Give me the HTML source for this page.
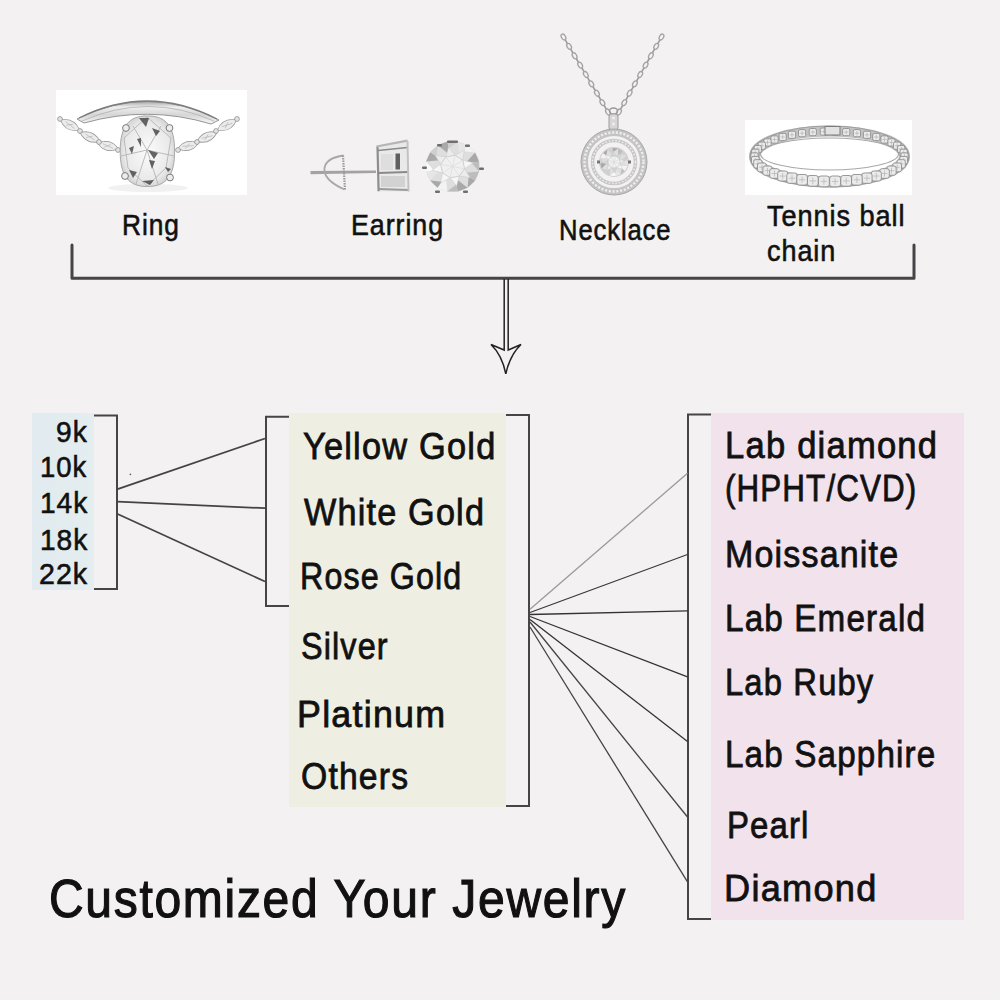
<!DOCTYPE html>
<html><head><meta charset="utf-8"><style>
html,body{margin:0;padding:0;}
body{width:1000px;height:1000px;position:relative;overflow:hidden;background:#f3f1f2;font-family:"Liberation Sans",sans-serif;}
.t{position:absolute;white-space:nowrap;line-height:1;color:#111;transform-origin:0 0;-webkit-text-stroke:0.35px #111;letter-spacing:0.035em;}
.box{position:absolute;}
svg{position:absolute;left:0;top:0;}
</style></head><body>
<div class="box" style="left:56px;top:90px;width:191px;height:105px;background:#fff"></div>
<div class="box" style="left:745px;top:120px;width:167px;height:75px;background:#fff"></div>
<div class="box" style="left:32px;top:413px;width:62px;height:177px;background:linear-gradient(90deg,#e1ebf0,#e4eeef)"></div>
<div class="box" style="left:289px;top:413px;width:217px;height:394px;background:#efeee2"></div>
<div class="box" style="left:711px;top:413px;width:253px;height:507px;background:#f1e2eb"></div>
<svg width="1000" height="1000" viewBox="0 0 1000 1000">
<path d="M72 245 V278.2 H914 V245" fill="none" stroke="#464446" stroke-width="3" stroke-linecap="round" stroke-linejoin="round"/>
<path d="M94 415.5 H117 V589 H94" fill="none" stroke="#464446" stroke-width="2"/>
<path d="M289 416.8 H266 V606 H289" fill="none" stroke="#464446" stroke-width="2"/>
<path d="M506 415 H529 V806 H506" fill="none" stroke="#464446" stroke-width="2"/>
<path d="M711 414.5 H688 V919 H711" fill="none" stroke="#464446" stroke-width="2"/>
<line x1="117.6" y1="489.1" x2="265" y2="438.5" stroke="#444" stroke-width="1.8"/>
<line x1="117.6" y1="501.6" x2="265" y2="508.2" stroke="#444" stroke-width="1.8"/>
<line x1="117.6" y1="514" x2="265" y2="581.5" stroke="#444" stroke-width="1.8"/>
<line x1="530" y1="609.2" x2="687.5" y2="473.3" stroke="#9a9a9a" stroke-width="1.3"/>
<line x1="530" y1="612.5" x2="687.5" y2="554.5" stroke="#3a3a3a" stroke-width="1.3"/>
<line x1="530" y1="614.5" x2="687.5" y2="610.9" stroke="#333" stroke-width="1.3"/>
<line x1="530" y1="616.5" x2="687.5" y2="676.9" stroke="#333" stroke-width="1.3"/>
<line x1="530" y1="619.5" x2="687.5" y2="741.4" stroke="#333" stroke-width="1.3"/>
<line x1="530" y1="622" x2="687.5" y2="817" stroke="#444" stroke-width="1.3"/>
<line x1="530" y1="627" x2="687.5" y2="881.9" stroke="#444" stroke-width="1.3"/>
<path d="M504.2 279 V350 L491 344.5 Q502 355 505.8 373.8 Q510 355 521 344.5 L508.2 350 V279" fill="none" stroke="#222" stroke-width="1.5" stroke-linejoin="miter"/>
<defs><linearGradient id="bandg" x1="0" y1="0" x2="0" y2="1"><stop offset="0" stop-color="#a5a5a5"/><stop offset="0.25" stop-color="#eeeeee"/><stop offset="0.6" stop-color="#d6d6d6"/><stop offset="1" stop-color="#f7f7f7"/></linearGradient><radialGradient id="stoneg" cx="0.5" cy="0.5" r="0.6"><stop offset="0" stop-color="#fbfbfb"/><stop offset="0.7" stop-color="#e9e9e9"/><stop offset="1" stop-color="#c4c4c4"/></radialGradient></defs>
<path d="M77 119 Q148 83.5 219 120 L211 124 Q148 105 84 123 Z" fill="url(#bandg)" stroke="#8a8a8a" stroke-width="0.9"/>
<path d="M79 118 Q148 83.5 217 119" fill="none" stroke="#7c7c7c" stroke-width="1.3"/>
<path d="M82 121 Q148 92 214 121" fill="none" stroke="#b0b0b0" stroke-width="0.8"/>
<g transform="translate(70 125) rotate(28)"><path d="M-11 0 Q0 -9.0 11 0 Q0 9.0 -11 0 Z" fill="#ececec" stroke="#a2a2a2" stroke-width="0.9"/><path d="M-5.5 -1 L5.5 1 M-3.3 2 L2.2 -2" stroke="#bdbdbd" stroke-width="0.8"/></g>
<g transform="translate(90 137) rotate(24)"><path d="M-11 0 Q0 -9.0 11 0 Q0 9.0 -11 0 Z" fill="#ececec" stroke="#a2a2a2" stroke-width="0.9"/><path d="M-5.5 -1 L5.5 1 M-3.3 2 L2.2 -2" stroke="#bdbdbd" stroke-width="0.8"/></g>
<g transform="translate(108 146) rotate(14)"><path d="M-11 0 Q0 -9.0 11 0 Q0 9.0 -11 0 Z" fill="#ececec" stroke="#a2a2a2" stroke-width="0.9"/><path d="M-5.5 -1 L5.5 1 M-3.3 2 L2.2 -2" stroke="#bdbdbd" stroke-width="0.8"/></g>
<g transform="translate(188 146) rotate(-14)"><path d="M-11 0 Q0 -9.0 11 0 Q0 9.0 -11 0 Z" fill="#ececec" stroke="#a2a2a2" stroke-width="0.9"/><path d="M-5.5 -1 L5.5 1 M-3.3 2 L2.2 -2" stroke="#bdbdbd" stroke-width="0.8"/></g>
<g transform="translate(207 137) rotate(-24)"><path d="M-11 0 Q0 -9.0 11 0 Q0 9.0 -11 0 Z" fill="#ececec" stroke="#a2a2a2" stroke-width="0.9"/><path d="M-5.5 -1 L5.5 1 M-3.3 2 L2.2 -2" stroke="#bdbdbd" stroke-width="0.8"/></g>
<g transform="translate(227 125) rotate(-28)"><path d="M-11 0 Q0 -9.0 11 0 Q0 9.0 -11 0 Z" fill="#ececec" stroke="#a2a2a2" stroke-width="0.9"/><path d="M-5.5 -1 L5.5 1 M-3.3 2 L2.2 -2" stroke="#bdbdbd" stroke-width="0.8"/></g>
<circle cx="60" cy="119" r="2.4" fill="#e4e4e4" stroke="#8f8f8f" stroke-width="0.8"/>
<circle cx="80" cy="131" r="2.4" fill="#e4e4e4" stroke="#8f8f8f" stroke-width="0.8"/>
<circle cx="99" cy="142" r="2.4" fill="#e4e4e4" stroke="#8f8f8f" stroke-width="0.8"/>
<circle cx="118" cy="150" r="2.4" fill="#e4e4e4" stroke="#8f8f8f" stroke-width="0.8"/>
<circle cx="178" cy="150" r="2.4" fill="#e4e4e4" stroke="#8f8f8f" stroke-width="0.8"/>
<circle cx="197" cy="142" r="2.4" fill="#e4e4e4" stroke="#8f8f8f" stroke-width="0.8"/>
<circle cx="216" cy="131" r="2.4" fill="#e4e4e4" stroke="#8f8f8f" stroke-width="0.8"/>
<circle cx="237" cy="119" r="2.4" fill="#e4e4e4" stroke="#8f8f8f" stroke-width="0.8"/>
<ellipse cx="148" cy="188" rx="40" ry="4" fill="#f1f1f1"/>
<path d="M147.4 115.89999999999999 C166.44 115.89999999999999 174.6 126.49 174.6 151.2 C174.6 175.91 166.44 186.5 147.4 186.5 C128.36 186.5 120.2 175.91 120.2 151.2 C120.2 126.49 128.36 115.89999999999999 147.4 115.89999999999999 Z" fill="url(#stoneg)" stroke="#a8a8a8" stroke-width="1"/>
<path d="M124 138 L147 117 L171 138 L166 168 L147 186 L128 168 Z" fill="none" stroke="#b4b4b4" stroke-width="0.9"/>
<path d="M133 126 L147 150 L161 126" fill="none" stroke="#b4b4b4" stroke-width="0.9"/>
<path d="M121 156 L147 150 L174 156" fill="none" stroke="#b4b4b4" stroke-width="0.9"/>
<path d="M136 184 L147 150 L158 184" fill="none" stroke="#b4b4b4" stroke-width="0.9"/>
<path d="M139 118 L149 118 L146 127 Z" fill="#4a4a4a" opacity="0.85"/>
<path d="M137 139 L141 138 L141 147 Z" fill="#4a4a4a" opacity="0.85"/>
<path d="M148 150 L158 153 L154 159 Z" fill="#4a4a4a" opacity="0.85"/>
<path d="M149 160 L155 161 L152 169 Z" fill="#4a4a4a" opacity="0.85"/>
<path d="M129 170 L137 172 L133 178 Z" fill="#4a4a4a" opacity="0.85"/>
<path d="M142 181 L154 180 L150 185 Z" fill="#4a4a4a" opacity="0.85"/>
<path d="M165 167 L171 169 L168 172 Z" fill="#4a4a4a" opacity="0.85"/>
<path d="M152 128 L160 131 L156 136 Z" fill="#4a4a4a" opacity="0.85"/>
<path d="M129 148 L134 146 L132 154 Z" fill="#4a4a4a" opacity="0.85"/>
<circle cx="126" cy="128" r="3.4" fill="#ededed" stroke="#7a7a7a" stroke-width="1"/>
<circle cx="169.5" cy="128" r="3.4" fill="#ededed" stroke="#7a7a7a" stroke-width="1"/>
<circle cx="125" cy="176" r="3.4" fill="#ededed" stroke="#7a7a7a" stroke-width="1"/>
<circle cx="170" cy="177.5" r="3.4" fill="#ededed" stroke="#7a7a7a" stroke-width="1"/>
<path d="M310.5 171 L376 170.5 L376 173 L310.5 174.2 Z" fill="#a3a3a3"/>
<path d="M343.5 155.5 Q326 158 324.5 168 Q323 180 344.5 189.5" fill="none" stroke="#a9a9a9" stroke-width="1.8"/>
<path d="M343 155.5 L345 190" stroke="#9b9b9b" stroke-width="2.2" stroke-dasharray="1.5 1"/>
<path d="M376.5 146.5 L407.5 140.5 L408.5 191.5 L378.5 191.5 Z" fill="#e9e9e9"/>
<path d="M377.5 146.5 L378.6 191.3" stroke="#8e8e8e" stroke-width="2.2"/>
<path d="M376.5 146.5 L407.5 140.7" stroke="#b5b5b5" stroke-width="2.2"/>
<path d="M378 150.5 L407.5 147.5" stroke="#8a8a8a" stroke-width="1.6"/>
<path d="M378 173 L408 172" stroke="#8a8a8a" stroke-width="2"/>
<path d="M379 189 L408.5 190" stroke="#9a9a9a" stroke-width="2"/>
<path d="M407.5 141 L408.5 191.5" stroke="#c2c2c2" stroke-width="2"/>
<rect x="395.5" y="153.5" width="4.5" height="16" fill="#5f5f5f"/>
<rect x="381" y="176" width="24" height="11" fill="#d2d2d2"/>
<rect x="381" y="154" width="12" height="16" fill="#dedede"/>
<ellipse cx="452.6" cy="166.5" rx="27" ry="25.5" fill="#dedede"/>
<polygon points="479.1,171.6 475.0,180.7 462.7,172.9" fill="#bdbdbd"/>
<polygon points="475.0,180.7 467.5,187.8 468.7,176.8" fill="#a9a9a9"/>
<polygon points="467.5,187.8 457.8,191.5 454.9,177.8" fill="#a9a9a9"/>
<polygon points="457.8,191.5 447.2,191.5 456.3,184.5" fill="#bdbdbd"/>
<polygon points="447.2,191.5 437.5,187.7 445.8,176.0" fill="#f3f3f3"/>
<polygon points="437.5,187.7 430.1,180.6 441.7,181.7" fill="#a9a9a9"/>
<polygon points="430.1,180.6 426.1,171.4 440.7,168.7" fill="#e6e6e6"/>
<polygon points="426.1,171.4 426.1,161.4 433.5,170.0" fill="#fafafa"/>
<polygon points="426.1,161.4 430.2,152.3 442.5,160.1" fill="#a9a9a9"/>
<polygon points="430.2,152.3 437.7,145.2 436.5,156.2" fill="#cfcfcf"/>
<polygon points="437.7,145.2 447.4,141.5 450.3,155.2" fill="#a9a9a9"/>
<polygon points="447.4,141.5 458.0,141.5 448.9,148.5" fill="#cfcfcf"/>
<polygon points="458.0,141.5 467.7,145.3 459.4,157.0" fill="#e6e6e6"/>
<polygon points="467.7,145.3 475.1,152.4 463.5,151.3" fill="#f3f3f3"/>
<polygon points="475.1,152.4 479.1,161.6 464.5,164.3" fill="#a9a9a9"/>
<polygon points="479.1,161.6 479.1,171.6 471.7,163.0" fill="#bdbdbd"/>
<polygon points="464.5,168.8 459.3,176.1 470.1,177.6" fill="#ececec" stroke="#c8c8c8" stroke-width="0.5"/>
<polygon points="459.3,176.1 450.2,177.7 456.6,186.0" fill="#f6f6f6" stroke="#c8c8c8" stroke-width="0.5"/>
<polygon points="450.2,177.7 442.5,172.8 440.8,183.0" fill="#f6f6f6" stroke="#c8c8c8" stroke-width="0.5"/>
<polygon points="442.5,172.8 440.7,164.2 431.9,170.3" fill="#f6f6f6" stroke="#c8c8c8" stroke-width="0.5"/>
<polygon points="440.7,164.2 445.9,156.9 435.1,155.4" fill="#ececec" stroke="#c8c8c8" stroke-width="0.5"/>
<polygon points="445.9,156.9 455.0,155.3 448.6,147.0" fill="#ececec" stroke="#c8c8c8" stroke-width="0.5"/>
<polygon points="455.0,155.3 462.7,160.2 464.4,150.0" fill="#ececec" stroke="#c8c8c8" stroke-width="0.5"/>
<polygon points="462.7,160.2 464.5,168.8 473.3,162.7" fill="#f6f6f6" stroke="#c8c8c8" stroke-width="0.5"/>
<polygon points="464.5,168.8 459.3,176.1 450.2,177.7 442.5,172.8 440.7,164.2 445.9,156.9 455.0,155.3 462.7,160.2" fill="#f0f0f0" stroke="#c4c4c4" stroke-width="0.6"/>
<line x1="452.6" y1="166.5" x2="464.5" y2="168.8" stroke="#d8d8d8" stroke-width="0.6"/>
<line x1="452.6" y1="166.5" x2="459.3" y2="176.1" stroke="#d8d8d8" stroke-width="0.6"/>
<line x1="452.6" y1="166.5" x2="450.2" y2="177.7" stroke="#d8d8d8" stroke-width="0.6"/>
<line x1="452.6" y1="166.5" x2="442.5" y2="172.8" stroke="#d8d8d8" stroke-width="0.6"/>
<line x1="452.6" y1="166.5" x2="440.7" y2="164.2" stroke="#d8d8d8" stroke-width="0.6"/>
<line x1="452.6" y1="166.5" x2="445.9" y2="156.9" stroke="#d8d8d8" stroke-width="0.6"/>
<line x1="452.6" y1="166.5" x2="455.0" y2="155.3" stroke="#d8d8d8" stroke-width="0.6"/>
<line x1="452.6" y1="166.5" x2="462.7" y2="160.2" stroke="#d8d8d8" stroke-width="0.6"/>
<rect x="447" y="140.5" width="11" height="2.6" rx="1" fill="#6f6f6f"/>
<rect x="437" y="144" width="5" height="2.5" rx="1" fill="#6f6f6f"/>
<rect x="465" y="144.5" width="5" height="2.5" rx="1" fill="#6f6f6f"/>
<rect x="422" y="166.5" width="5" height="2.5" rx="1" fill="#6f6f6f"/>
<rect x="479" y="167.5" width="5" height="2.5" rx="1" fill="#6f6f6f"/>
<rect x="435" y="190.5" width="5" height="2.5" rx="1" fill="#6f6f6f"/>
<rect x="463" y="190.5" width="5" height="2.5" rx="1" fill="#6f6f6f"/>
<ellipse cx="563.5" cy="37.0" rx="3.2" ry="2" transform="rotate(59 563.5 37.0)" fill="none" stroke="#a3a3a3" stroke-width="1.3"/>
<line x1="565.2" y1="39.8" x2="567.4" y2="43.6" stroke="#9c9c9c" stroke-width="1.6"/>
<ellipse cx="569.1" cy="46.4" rx="3.2" ry="2" transform="rotate(59 569.1 46.4)" fill="none" stroke="#a3a3a3" stroke-width="1.3"/>
<line x1="570.7" y1="49.2" x2="573.0" y2="53.0" stroke="#9c9c9c" stroke-width="1.6"/>
<ellipse cx="574.6" cy="55.8" rx="3.2" ry="2" transform="rotate(59 574.6 55.8)" fill="none" stroke="#a3a3a3" stroke-width="1.3"/>
<line x1="576.3" y1="58.5" x2="578.5" y2="62.3" stroke="#9c9c9c" stroke-width="1.6"/>
<ellipse cx="580.2" cy="65.1" rx="3.2" ry="2" transform="rotate(59 580.2 65.1)" fill="none" stroke="#a3a3a3" stroke-width="1.3"/>
<line x1="581.8" y1="67.9" x2="584.1" y2="71.7" stroke="#9c9c9c" stroke-width="1.6"/>
<ellipse cx="585.8" cy="74.5" rx="3.2" ry="2" transform="rotate(59 585.8 74.5)" fill="none" stroke="#a3a3a3" stroke-width="1.3"/>
<line x1="587.4" y1="77.3" x2="589.7" y2="81.1" stroke="#9c9c9c" stroke-width="1.6"/>
<ellipse cx="591.3" cy="83.9" rx="3.2" ry="2" transform="rotate(59 591.3 83.9)" fill="none" stroke="#a3a3a3" stroke-width="1.3"/>
<line x1="593.0" y1="86.7" x2="595.2" y2="90.5" stroke="#9c9c9c" stroke-width="1.6"/>
<ellipse cx="596.9" cy="93.2" rx="3.2" ry="2" transform="rotate(59 596.9 93.2)" fill="none" stroke="#a3a3a3" stroke-width="1.3"/>
<line x1="598.5" y1="96.0" x2="600.8" y2="99.8" stroke="#9c9c9c" stroke-width="1.6"/>
<ellipse cx="602.4" cy="102.6" rx="3.2" ry="2" transform="rotate(59 602.4 102.6)" fill="none" stroke="#a3a3a3" stroke-width="1.3"/>
<line x1="604.1" y1="105.4" x2="606.3" y2="109.2" stroke="#9c9c9c" stroke-width="1.6"/>
<ellipse cx="608.0" cy="112.0" rx="3.2" ry="2" transform="rotate(59 608.0 112.0)" fill="none" stroke="#a3a3a3" stroke-width="1.3"/>
<ellipse cx="661.5" cy="37.0" rx="3.2" ry="2" transform="rotate(120 661.5 37.0)" fill="none" stroke="#a3a3a3" stroke-width="1.3"/>
<line x1="659.9" y1="39.8" x2="657.8" y2="43.6" stroke="#9c9c9c" stroke-width="1.6"/>
<ellipse cx="656.2" cy="46.4" rx="3.2" ry="2" transform="rotate(120 656.2 46.4)" fill="none" stroke="#a3a3a3" stroke-width="1.3"/>
<line x1="654.6" y1="49.1" x2="652.4" y2="53.0" stroke="#9c9c9c" stroke-width="1.6"/>
<ellipse cx="650.9" cy="55.8" rx="3.2" ry="2" transform="rotate(120 650.9 55.8)" fill="none" stroke="#a3a3a3" stroke-width="1.3"/>
<line x1="649.3" y1="58.5" x2="647.1" y2="62.4" stroke="#9c9c9c" stroke-width="1.6"/>
<ellipse cx="645.6" cy="65.1" rx="3.2" ry="2" transform="rotate(120 645.6 65.1)" fill="none" stroke="#a3a3a3" stroke-width="1.3"/>
<line x1="644.0" y1="67.9" x2="641.8" y2="71.7" stroke="#9c9c9c" stroke-width="1.6"/>
<ellipse cx="640.2" cy="74.5" rx="3.2" ry="2" transform="rotate(120 640.2 74.5)" fill="none" stroke="#a3a3a3" stroke-width="1.3"/>
<line x1="638.7" y1="77.3" x2="636.5" y2="81.1" stroke="#9c9c9c" stroke-width="1.6"/>
<ellipse cx="634.9" cy="83.9" rx="3.2" ry="2" transform="rotate(120 634.9 83.9)" fill="none" stroke="#a3a3a3" stroke-width="1.3"/>
<line x1="633.4" y1="86.6" x2="631.2" y2="90.5" stroke="#9c9c9c" stroke-width="1.6"/>
<ellipse cx="629.6" cy="93.2" rx="3.2" ry="2" transform="rotate(120 629.6 93.2)" fill="none" stroke="#a3a3a3" stroke-width="1.3"/>
<line x1="628.1" y1="96.0" x2="625.9" y2="99.9" stroke="#9c9c9c" stroke-width="1.6"/>
<ellipse cx="624.3" cy="102.6" rx="3.2" ry="2" transform="rotate(120 624.3 102.6)" fill="none" stroke="#a3a3a3" stroke-width="1.3"/>
<line x1="622.7" y1="105.4" x2="620.6" y2="109.2" stroke="#9c9c9c" stroke-width="1.6"/>
<ellipse cx="619.0" cy="112.0" rx="3.2" ry="2" transform="rotate(120 619.0 112.0)" fill="none" stroke="#a3a3a3" stroke-width="1.3"/>
<ellipse cx="613.5" cy="111" rx="4" ry="3" fill="none" stroke="#999" stroke-width="1.4"/>
<rect x="609" y="114" width="9" height="16" rx="3" fill="#d6d6d6" stroke="#a5a5a5" stroke-width="1.1"/>
<circle cx="613.5" cy="118" r="1.6" fill="#eee"/><circle cx="613.5" cy="124" r="1.6" fill="#eee"/>
<circle cx="614" cy="162" r="29.5" fill="none" stroke="#c4c4c4" stroke-width="7"/>
<circle cx="614" cy="162" r="33" fill="none" stroke="#a8a8a8" stroke-width="1"/>
<circle cx="614" cy="162" r="29.5" fill="none" stroke="#ededed" stroke-width="2.4" stroke-dasharray="2.2 1.6"/>
<circle cx="614" cy="162" r="21.5" fill="none" stroke="#c7c7c7" stroke-width="3.5"/>
<circle cx="614" cy="162" r="21.5" fill="none" stroke="#efefef" stroke-width="1.4" stroke-dasharray="1.6 1.8"/>
<circle cx="614" cy="162" r="15" fill="#cfcfcf"/>
<ellipse cx="614" cy="162" rx="14" ry="14" fill="#dedede"/>
<polygon points="627.4,166.1 624.8,170.9 618.8,166.0" fill="#f3f3f3"/>
<polygon points="624.8,170.9 620.5,174.4 621.8,168.4" fill="#bdbdbd"/>
<polygon points="620.5,174.4 615.3,175.9 614.6,168.3" fill="#e6e6e6"/>
<polygon points="615.3,175.9 609.9,175.4 614.9,172.0" fill="#fafafa"/>
<polygon points="609.9,175.4 605.1,172.8 610.0,166.8" fill="#cfcfcf"/>
<polygon points="605.1,172.8 601.6,168.5 607.6,169.8" fill="#cfcfcf"/>
<polygon points="601.6,168.5 600.1,163.3 607.7,162.6" fill="#a9a9a9"/>
<polygon points="600.1,163.3 600.6,157.9 604.0,162.9" fill="#cfcfcf"/>
<polygon points="600.6,157.9 603.2,153.1 609.2,158.0" fill="#f3f3f3"/>
<polygon points="603.2,153.1 607.5,149.6 606.2,155.6" fill="#a9a9a9"/>
<polygon points="607.5,149.6 612.7,148.1 613.4,155.7" fill="#cfcfcf"/>
<polygon points="612.7,148.1 618.1,148.6 613.1,152.0" fill="#a9a9a9"/>
<polygon points="618.1,148.6 622.9,151.2 618.0,157.2" fill="#bdbdbd"/>
<polygon points="622.9,151.2 626.4,155.5 620.4,154.2" fill="#cfcfcf"/>
<polygon points="626.4,155.5 627.9,160.7 620.3,161.4" fill="#cfcfcf"/>
<polygon points="627.9,160.7 627.4,166.1 624.0,161.1" fill="#e6e6e6"/>
<polygon points="620.0,163.9 616.9,167.6 622.4,169.0" fill="#f6f6f6" stroke="#c8c8c8" stroke-width="0.5"/>
<polygon points="616.9,167.6 612.1,168.0 615.0,172.9" fill="#d5d5d5" stroke="#c8c8c8" stroke-width="0.5"/>
<polygon points="612.1,168.0 608.4,164.9 607.0,170.4" fill="#ececec" stroke="#c8c8c8" stroke-width="0.5"/>
<polygon points="608.4,164.9 608.0,160.1 603.1,163.0" fill="#d5d5d5" stroke="#c8c8c8" stroke-width="0.5"/>
<polygon points="608.0,160.1 611.1,156.4 605.6,155.0" fill="#f6f6f6" stroke="#c8c8c8" stroke-width="0.5"/>
<polygon points="611.1,156.4 615.9,156.0 613.0,151.1" fill="#d5d5d5" stroke="#c8c8c8" stroke-width="0.5"/>
<polygon points="615.9,156.0 619.6,159.1 621.0,153.6" fill="#d5d5d5" stroke="#c8c8c8" stroke-width="0.5"/>
<polygon points="619.6,159.1 620.0,163.9 624.9,161.0" fill="#ececec" stroke="#c8c8c8" stroke-width="0.5"/>
<polygon points="620.0,163.9 616.9,167.6 612.1,168.0 608.4,164.9 608.0,160.1 611.1,156.4 615.9,156.0 619.6,159.1" fill="#f0f0f0" stroke="#c4c4c4" stroke-width="0.6"/>
<line x1="614" y1="162" x2="620.0" y2="163.9" stroke="#d8d8d8" stroke-width="0.6"/>
<line x1="614" y1="162" x2="616.9" y2="167.6" stroke="#d8d8d8" stroke-width="0.6"/>
<line x1="614" y1="162" x2="612.1" y2="168.0" stroke="#d8d8d8" stroke-width="0.6"/>
<line x1="614" y1="162" x2="608.4" y2="164.9" stroke="#d8d8d8" stroke-width="0.6"/>
<line x1="614" y1="162" x2="608.0" y2="160.1" stroke="#d8d8d8" stroke-width="0.6"/>
<line x1="614" y1="162" x2="611.1" y2="156.4" stroke="#d8d8d8" stroke-width="0.6"/>
<line x1="614" y1="162" x2="615.9" y2="156.0" stroke="#d8d8d8" stroke-width="0.6"/>
<line x1="614" y1="162" x2="619.6" y2="159.1" stroke="#d8d8d8" stroke-width="0.6"/>
<rect x="597" y="160.5" width="3" height="3" fill="#777"/><rect x="628" y="160.5" width="3" height="3" fill="#777"/>
<ellipse cx="829.5" cy="156.5" rx="75" ry="25.5" fill="none" stroke="#c2c2c2" stroke-width="11"/>
<ellipse cx="829.5" cy="156.5" rx="79.5" ry="30.5" fill="none" stroke="#a0a0a0" stroke-width="1.1"/>
<ellipse cx="829.5" cy="154.0" rx="69" ry="16" fill="none" stroke="#a8a8a8" stroke-width="1.1"/>
<rect x="820.3" y="128.0" width="7.2" height="7.2" rx="1.6" fill="#ebebeb" stroke="#8f8f8f" stroke-width="0.9"/>
<path d="M821.7 131.6 L826.1 131.6 M823.9 129.4 L823.9 133.7" stroke="#b9b9b9" stroke-width="0.8"/>
<rect x="831.5" y="128.0" width="7.2" height="7.2" rx="1.6" fill="#ebebeb" stroke="#8f8f8f" stroke-width="0.9"/>
<path d="M832.9 131.6 L837.3 131.6 M835.1 129.4 L835.1 133.7" stroke="#b9b9b9" stroke-width="0.8"/>
<rect x="809.2" y="128.5" width="7.2" height="7.2" rx="1.6" fill="#ebebeb" stroke="#8f8f8f" stroke-width="0.9"/>
<path d="M810.7 132.1 L815.0 132.1 M812.8 130.0 L812.8 134.3" stroke="#b9b9b9" stroke-width="0.8"/>
<rect x="842.6" y="128.5" width="7.2" height="7.2" rx="1.6" fill="#ebebeb" stroke="#8f8f8f" stroke-width="0.9"/>
<path d="M844.0 132.1 L848.3 132.1 M846.2 130.0 L846.2 134.3" stroke="#b9b9b9" stroke-width="0.8"/>
<rect x="798.5" y="129.6" width="7.2" height="7.2" rx="1.6" fill="#ebebeb" stroke="#8f8f8f" stroke-width="0.9"/>
<path d="M799.9 133.2 L804.3 133.2 M802.1 131.1 L802.1 135.4" stroke="#b9b9b9" stroke-width="0.8"/>
<rect x="853.3" y="129.6" width="7.2" height="7.2" rx="1.6" fill="#ebebeb" stroke="#8f8f8f" stroke-width="0.9"/>
<path d="M854.7 133.2 L859.1 133.2 M856.9 131.1 L856.9 135.4" stroke="#b9b9b9" stroke-width="0.8"/>
<rect x="863.4" y="131.2" width="7.2" height="7.2" rx="1.6" fill="#ebebeb" stroke="#8f8f8f" stroke-width="0.9"/>
<path d="M864.8 134.8 L869.2 134.8 M867.0 132.7 L867.0 137.0" stroke="#b9b9b9" stroke-width="0.8"/>
<rect x="788.4" y="131.2" width="7.2" height="7.2" rx="1.6" fill="#ebebeb" stroke="#8f8f8f" stroke-width="0.9"/>
<path d="M789.8 134.8 L794.2 134.8 M792.0 132.7 L792.0 137.0" stroke="#b9b9b9" stroke-width="0.8"/>
<rect x="872.7" y="133.4" width="7.2" height="7.2" rx="1.6" fill="#ebebeb" stroke="#8f8f8f" stroke-width="0.9"/>
<path d="M874.1 137.0 L878.4 137.0 M876.3 134.8 L876.3 139.1" stroke="#b9b9b9" stroke-width="0.8"/>
<rect x="779.1" y="133.4" width="7.2" height="7.2" rx="1.6" fill="#ebebeb" stroke="#8f8f8f" stroke-width="0.9"/>
<path d="M780.6 137.0 L784.9 137.0 M782.7 134.8 L782.7 139.1" stroke="#b9b9b9" stroke-width="0.8"/>
<rect x="770.9" y="135.9" width="7.2" height="7.2" rx="1.6" fill="#ebebeb" stroke="#8f8f8f" stroke-width="0.9"/>
<path d="M772.4 139.5 L776.7 139.5 M774.5 137.3 L774.5 141.7" stroke="#b9b9b9" stroke-width="0.8"/>
<rect x="880.9" y="135.9" width="7.2" height="7.2" rx="1.6" fill="#ebebeb" stroke="#8f8f8f" stroke-width="0.9"/>
<path d="M882.3 139.5 L886.6 139.5 M884.5 137.3 L884.5 141.7" stroke="#b9b9b9" stroke-width="0.8"/>
<rect x="887.9" y="138.8" width="7.2" height="7.2" rx="1.6" fill="#ebebeb" stroke="#8f8f8f" stroke-width="0.9"/>
<path d="M889.3 142.4 L893.6 142.4 M891.5 140.3 L891.5 144.6" stroke="#b9b9b9" stroke-width="0.8"/>
<rect x="763.9" y="138.8" width="7.2" height="7.2" rx="1.6" fill="#ebebeb" stroke="#8f8f8f" stroke-width="0.9"/>
<path d="M765.4 142.4 L769.7 142.4 M767.5 140.3 L767.5 144.6" stroke="#b9b9b9" stroke-width="0.8"/>
<rect x="893.5" y="142.1" width="7.2" height="7.2" rx="1.6" fill="#ebebeb" stroke="#8f8f8f" stroke-width="0.9"/>
<path d="M894.9 145.7 L899.2 145.7 M897.1 143.5 L897.1 147.8" stroke="#b9b9b9" stroke-width="0.8"/>
<rect x="758.3" y="142.1" width="7.2" height="7.2" rx="1.6" fill="#ebebeb" stroke="#8f8f8f" stroke-width="0.9"/>
<path d="M759.8 145.7 L764.1 145.7 M761.9 143.5 L761.9 147.8" stroke="#b9b9b9" stroke-width="0.8"/>
<rect x="897.6" y="145.5" width="7.2" height="7.2" rx="1.6" fill="#ebebeb" stroke="#8f8f8f" stroke-width="0.9"/>
<path d="M899.0 149.1 L903.3 149.1 M901.2 147.0 L901.2 151.3" stroke="#b9b9b9" stroke-width="0.8"/>
<rect x="754.2" y="145.5" width="7.2" height="7.2" rx="1.6" fill="#ebebeb" stroke="#8f8f8f" stroke-width="0.9"/>
<path d="M755.7 149.1 L760.0 149.1 M757.8 147.0 L757.8 151.3" stroke="#b9b9b9" stroke-width="0.8"/>
<rect x="900.1" y="149.2" width="7.2" height="7.2" rx="1.6" fill="#ebebeb" stroke="#8f8f8f" stroke-width="0.9"/>
<path d="M901.5 152.8 L905.8 152.8 M903.7 150.6 L903.7 154.9" stroke="#b9b9b9" stroke-width="0.8"/>
<rect x="751.7" y="149.2" width="7.2" height="7.2" rx="1.6" fill="#ebebeb" stroke="#8f8f8f" stroke-width="0.9"/>
<path d="M753.2 152.8 L757.5 152.8 M755.3 150.6 L755.3 154.9" stroke="#b9b9b9" stroke-width="0.8"/>
<rect x="900.9" y="152.9" width="7.2" height="7.2" rx="1.6" fill="#ebebeb" stroke="#8f8f8f" stroke-width="0.9"/>
<path d="M902.3 156.5 L906.7 156.5 M904.5 154.3 L904.5 158.7" stroke="#b9b9b9" stroke-width="0.8"/>
<rect x="750.9" y="152.9" width="7.2" height="7.2" rx="1.6" fill="#ebebeb" stroke="#8f8f8f" stroke-width="0.9"/>
<path d="M752.3 156.5 L756.7 156.5 M754.5 154.3 L754.5 158.7" stroke="#b9b9b9" stroke-width="0.8"/>
<rect x="899.8" y="156.4" width="7.7" height="7.7" rx="1.7" fill="#ebebeb" stroke="#8f8f8f" stroke-width="0.9"/>
<path d="M901.3 160.2 L906.0 160.2 M903.7 157.9 L903.7 162.5" stroke="#b9b9b9" stroke-width="0.8"/>
<rect x="751.5" y="156.4" width="7.7" height="7.7" rx="1.7" fill="#ebebeb" stroke="#8f8f8f" stroke-width="0.9"/>
<path d="M753.0 160.2 L757.7 160.2 M755.3 157.9 L755.3 162.5" stroke="#b9b9b9" stroke-width="0.8"/>
<rect x="897.0" y="159.7" width="8.3" height="8.3" rx="1.9" fill="#ebebeb" stroke="#8f8f8f" stroke-width="0.9"/>
<path d="M898.7 163.9 L903.6 163.9 M901.2 161.4 L901.2 166.3" stroke="#b9b9b9" stroke-width="0.8"/>
<rect x="753.7" y="159.7" width="8.3" height="8.3" rx="1.9" fill="#ebebeb" stroke="#8f8f8f" stroke-width="0.9"/>
<path d="M755.4 163.9 L760.3 163.9 M757.8 161.4 L757.8 166.3" stroke="#b9b9b9" stroke-width="0.8"/>
<rect x="892.7" y="163.0" width="8.8" height="8.8" rx="2.0" fill="#ebebeb" stroke="#8f8f8f" stroke-width="0.9"/>
<path d="M894.4 167.3 L899.7 167.3 M897.1 164.7 L897.1 170.0" stroke="#b9b9b9" stroke-width="0.8"/>
<rect x="757.5" y="163.0" width="8.8" height="8.8" rx="2.0" fill="#ebebeb" stroke="#8f8f8f" stroke-width="0.9"/>
<path d="M759.3 167.3 L764.6 167.3 M761.9 164.7 L761.9 170.0" stroke="#b9b9b9" stroke-width="0.8"/>
<rect x="762.9" y="166.0" width="9.2" height="9.2" rx="2.1" fill="#ebebeb" stroke="#8f8f8f" stroke-width="0.9"/>
<path d="M764.8 170.6 L770.3 170.6 M767.5 167.8 L767.5 173.4" stroke="#b9b9b9" stroke-width="0.8"/>
<rect x="886.9" y="166.0" width="9.2" height="9.2" rx="2.1" fill="#ebebeb" stroke="#8f8f8f" stroke-width="0.9"/>
<path d="M888.7 170.6 L894.2 170.6 M891.5 167.8 L891.5 173.4" stroke="#b9b9b9" stroke-width="0.8"/>
<rect x="769.7" y="168.7" width="9.6" height="9.6" rx="2.2" fill="#ebebeb" stroke="#8f8f8f" stroke-width="0.9"/>
<path d="M771.6 173.5 L777.4 173.5 M774.5 170.6 L774.5 176.4" stroke="#b9b9b9" stroke-width="0.8"/>
<rect x="879.7" y="168.7" width="9.6" height="9.6" rx="2.2" fill="#ebebeb" stroke="#8f8f8f" stroke-width="0.9"/>
<path d="M881.6 173.5 L887.4 173.5 M884.5 170.6 L884.5 176.4" stroke="#b9b9b9" stroke-width="0.8"/>
<rect x="871.3" y="171.0" width="10.0" height="10.0" rx="2.3" fill="#ebebeb" stroke="#8f8f8f" stroke-width="0.9"/>
<path d="M873.3 176.0 L879.3 176.0 M876.3 173.0 L876.3 179.1" stroke="#b9b9b9" stroke-width="0.8"/>
<rect x="777.7" y="171.0" width="10.0" height="10.0" rx="2.3" fill="#ebebeb" stroke="#8f8f8f" stroke-width="0.9"/>
<path d="M779.7 176.0 L785.7 176.0 M782.7 173.0 L782.7 179.1" stroke="#b9b9b9" stroke-width="0.8"/>
<rect x="861.8" y="173.0" width="10.3" height="10.3" rx="2.3" fill="#ebebeb" stroke="#8f8f8f" stroke-width="0.9"/>
<path d="M863.9 178.2 L870.1 178.2 M867.0 175.1 L867.0 181.2" stroke="#b9b9b9" stroke-width="0.8"/>
<rect x="786.8" y="173.0" width="10.3" height="10.3" rx="2.3" fill="#ebebeb" stroke="#8f8f8f" stroke-width="0.9"/>
<path d="M788.9 178.2 L795.1 178.2 M792.0 175.1 L792.0 181.2" stroke="#b9b9b9" stroke-width="0.8"/>
<rect x="796.8" y="174.5" width="10.6" height="10.6" rx="2.4" fill="#ebebeb" stroke="#8f8f8f" stroke-width="0.9"/>
<path d="M798.9 179.8 L805.3 179.8 M802.1 176.6 L802.1 182.9" stroke="#b9b9b9" stroke-width="0.8"/>
<rect x="851.6" y="174.5" width="10.6" height="10.6" rx="2.4" fill="#ebebeb" stroke="#8f8f8f" stroke-width="0.9"/>
<path d="M853.7 179.8 L860.1 179.8 M856.9 176.6 L856.9 182.9" stroke="#b9b9b9" stroke-width="0.8"/>
<rect x="807.5" y="175.5" width="10.7" height="10.7" rx="2.4" fill="#ebebeb" stroke="#8f8f8f" stroke-width="0.9"/>
<path d="M809.6 180.9 L816.0 180.9 M812.8 177.7 L812.8 184.1" stroke="#b9b9b9" stroke-width="0.8"/>
<rect x="840.8" y="175.5" width="10.7" height="10.7" rx="2.4" fill="#ebebeb" stroke="#8f8f8f" stroke-width="0.9"/>
<path d="M843.0 180.9 L849.4 180.9 M846.2 177.7 L846.2 184.1" stroke="#b9b9b9" stroke-width="0.8"/>
<rect x="818.5" y="176.0" width="10.8" height="10.8" rx="2.4" fill="#ebebeb" stroke="#8f8f8f" stroke-width="0.9"/>
<path d="M820.7 181.4 L827.1 181.4 M823.9 178.2 L823.9 184.7" stroke="#b9b9b9" stroke-width="0.8"/>
<rect x="829.7" y="176.0" width="10.8" height="10.8" rx="2.4" fill="#ebebeb" stroke="#8f8f8f" stroke-width="0.9"/>
<path d="M831.9 181.4 L838.3 181.4 M835.1 178.2 L835.1 184.7" stroke="#b9b9b9" stroke-width="0.8"/>
<rect x="825" y="126.5" width="15" height="8.5" fill="#e2e2e2" stroke="#7d7d7d" stroke-width="1"/>
<circle cx="130.4" cy="474.4" r="0.8" fill="#555"/>
</svg>
<div class="t" style="left:122.34px;top:209.51px;font-size:29.60px;transform:scaleX(0.8890);-webkit-text-stroke-width:0.6px">Ring</div>
<div class="t" style="left:350.87px;top:209.81px;font-size:29.60px;transform:scaleX(0.9066);-webkit-text-stroke-width:0.6px">Earring</div>
<div class="t" style="left:558.80px;top:215.31px;font-size:29.60px;transform:scaleX(0.8649);-webkit-text-stroke-width:0.6px">Necklace</div>
<div class="t" style="left:766.98px;top:201.00px;font-size:29.60px;transform:scaleX(0.9161);-webkit-text-stroke-width:0.6px">Tennis ball</div>
<div class="t" style="left:766.98px;top:236.00px;font-size:29.60px;transform:scaleX(0.9121);-webkit-text-stroke-width:0.6px">chain</div>
<div class="t" style="left:55.96px;top:416.01px;font-size:30.40px;transform:scaleX(0.9256);-webkit-text-stroke-width:0.6px">9k</div>
<div class="t" style="left:39.95px;top:451.00px;font-size:30.40px;transform:scaleX(0.9029);-webkit-text-stroke-width:0.6px">10k</div>
<div class="t" style="left:39.90px;top:487.01px;font-size:30.40px;transform:scaleX(0.9244);-webkit-text-stroke-width:0.6px">14k</div>
<div class="t" style="left:39.90px;top:524.01px;font-size:30.40px;transform:scaleX(0.9244);-webkit-text-stroke-width:0.6px">18k</div>
<div class="t" style="left:38.96px;top:558.00px;font-size:30.40px;transform:scaleX(0.9401);-webkit-text-stroke-width:0.6px">22k</div>
<div class="t" style="left:302.79px;top:428.41px;font-size:37.50px;transform:scaleX(0.9164);-webkit-text-stroke-width:0.8px">Yellow Gold</div>
<div class="t" style="left:303.78px;top:494.21px;font-size:37.50px;transform:scaleX(0.9119);-webkit-text-stroke-width:0.8px">White Gold</div>
<div class="t" style="left:299.71px;top:558.01px;font-size:37.50px;transform:scaleX(0.8590);-webkit-text-stroke-width:0.8px">Rose Gold</div>
<div class="t" style="left:301.28px;top:627.80px;font-size:37.50px;transform:scaleX(0.8628);-webkit-text-stroke-width:0.8px">Silver</div>
<div class="t" style="left:297.49px;top:696.41px;font-size:37.50px;transform:scaleX(0.9551);-webkit-text-stroke-width:0.8px">Platinum</div>
<div class="t" style="left:301.30px;top:758.01px;font-size:37.50px;transform:scaleX(0.8983);-webkit-text-stroke-width:0.8px">Others</div>
<div class="t" style="left:725.00px;top:426.60px;font-size:37.50px;transform:scaleX(0.9221);-webkit-text-stroke-width:0.8px">Lab diamond</div>
<div class="t" style="left:724.99px;top:469.51px;font-size:37.50px;transform:scaleX(0.8370);-webkit-text-stroke-width:0.8px">(HPHT/CVD)</div>
<div class="t" style="left:725.19px;top:536.41px;font-size:37.50px;transform:scaleX(0.9060);-webkit-text-stroke-width:0.8px">Moissanite</div>
<div class="t" style="left:725.01px;top:600.01px;font-size:37.50px;transform:scaleX(0.8856);-webkit-text-stroke-width:0.8px">Lab Emerald</div>
<div class="t" style="left:724.74px;top:664.01px;font-size:37.50px;transform:scaleX(0.8735);-webkit-text-stroke-width:0.8px">Lab Ruby</div>
<div class="t" style="left:725.02px;top:736.01px;font-size:37.50px;transform:scaleX(0.8849);-webkit-text-stroke-width:0.8px">Lab Sapphire</div>
<div class="t" style="left:726.89px;top:807.41px;font-size:37.50px;transform:scaleX(0.8775);-webkit-text-stroke-width:0.8px">Pearl</div>
<div class="t" style="left:724.13px;top:870.41px;font-size:37.50px;transform:scaleX(0.9646);-webkit-text-stroke-width:0.8px">Diamond</div>
<div class="t" style="left:49.03px;top:871.61px;font-size:54.56px;transform:scaleX(0.8805);-webkit-text-stroke-width:1.2px">Customized Your Jewelry</div>
</body></html>
